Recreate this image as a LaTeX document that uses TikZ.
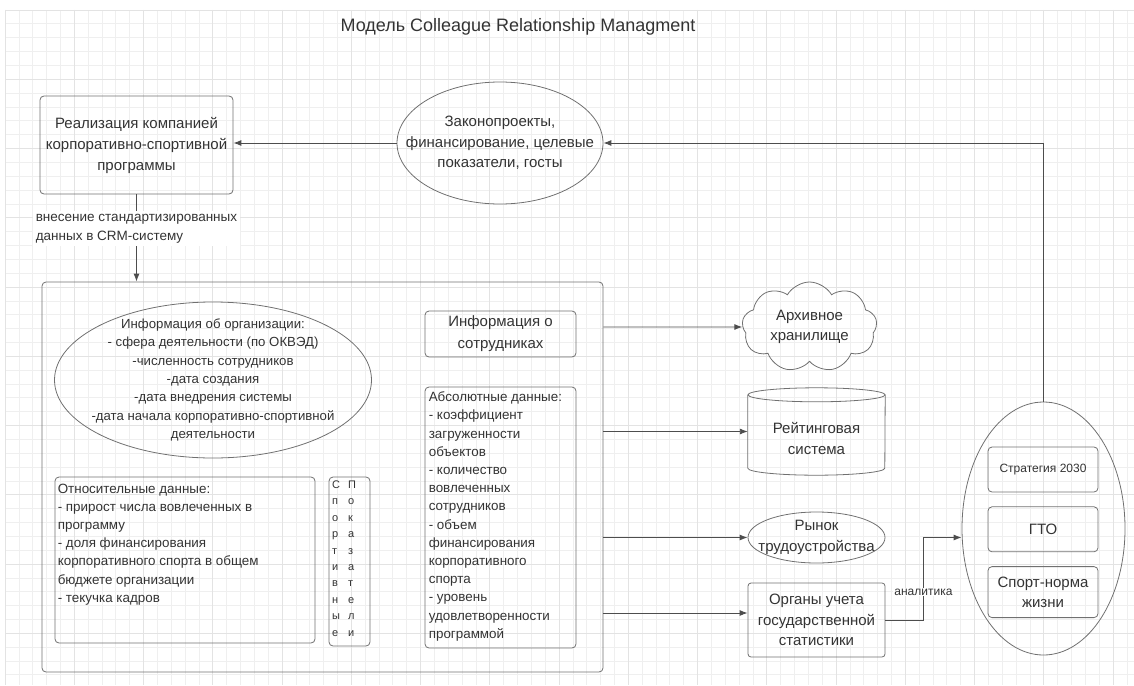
\documentclass[tikz,border=0pt]{standalone}
\usepackage{fontspec}
\setmainfont{Liberation Sans}
\usetikzlibrary{arrows.meta,shapes.geometric,shapes.symbols,positioning}
\usepackage{xcolor}
\definecolor{ink}{HTML}{333333}
\definecolor{connline}{HTML}{4D4D4D}
\definecolor{boxline}{HTML}{707070}
\definecolor{gridminor}{HTML}{EFEFEF}
\definecolor{gridmajor}{HTML}{E3E3E3}
\tikzset{%
  >={Latex[width=6pt,length=8pt]},
  % Specifications for style of nodes:
         base/.style = {draw=boxline, line width=0.8pt, text=ink,
                        align=center, inner sep=0pt},
     roundbox/.style = {base, rectangle, rounded corners=4pt},
         oval/.style = {base, ellipse},
       txtbig/.style = {text=ink, align=center, inner sep=0pt,
                        font=\fontsize{15}{20.5}\selectfont},
     txtsmall/.style = {text=ink, align=left, inner sep=0pt,
                        font=\fontsize{13.4}{18.2}\selectfont},
         conn/.style = {->, draw=connline, line width=0.9pt},
}

\begin{document}
\begin{tikzpicture}[x=1pt, y=-1pt]
  \useasboundingbox (0,0) rectangle (1134,685);
  % background grid
  \foreach \i in {0,...,81}
    \draw[gridminor, line width=0.7pt] ({5+13.85*\i},10) -- ({5+13.85*\i},685);
  \foreach \i in {0,...,48}
    \draw[gridminor, line width=0.7pt] (5,{10+13.85*\i}) -- (1134,{10+13.85*\i});
  \foreach \i in {0,5,...,80}
    \draw[gridmajor, line width=0.8pt] ({5+13.85*\i},10) -- ({5+13.85*\i},685);
  \foreach \i in {0,5,...,45}
    \draw[gridmajor, line width=0.8pt] (5,{10+13.85*\i}) -- (1134,{10+13.85*\i});

  % Specification of nodes (position, etc.)
  \node (title) at (518,27) [text=ink, font=\fontsize{18}{22}\selectfont]
    {Модель Colleague Relationship Managment};
  \node (realize) [roundbox, minimum width=193, minimum height=98,
    font=\fontsize{15}{21}\selectfont] at (136.5,145)
    {Реализация компанией\\корпоративно-спортивной\\программы};
  \node (laws) [oval, minimum width=206, minimum height=122] at (500,143) {};
  \node (lawstext) [txtbig] at (laws) {Законопроекты,\\финансирование, целевые\\показатели, госты};

  \node (crm) [roundbox, minimum width=561, minimum height=390] at (322.5,477) {};
  \node (orginfo) [oval, minimum width=317, minimum height=156] at (213,380) {};
  \node (orgtext) [txtsmall, align=center, font=\fontsize{13.2}{18.3}\selectfont] at (orginfo)
    {Информация об организации:\\- сфера деятельности (по ОКВЭД)\\-численность сотрудников\\-дата создания\\-дата внедрения системы\\-дата начала корпоративно-спортивной\\деятельности};
  \node (reldata) [roundbox, minimum width=260, minimum height=166] at (185,560) {};
  \node (reltext) [txtsmall, anchor=north west] at ([shift={(3,7)}]reldata.north west)
    {Относительные данные:\\- прирост числа вовлеченных в\\программу\\- доля финансирования\\корпоративного спорта в общем\\бюджете организации\\- текучка кадров};
  \node (vert) [roundbox, minimum width=41, minimum height=169] at (349.5,561.5) {};
  \node (verttext) [text=ink, inner sep=0pt, font=\fontsize{11}{16.4}\selectfont] at (344,559)
    {\begin{tabular}{@{}l@{\hspace{8pt}}l@{}}
     С & П\\ п & о\\ о & к\\ р & а\\ т & з\\ и & а\\ в & т\\ н & е\\ ы & л\\ е & и
     \end{tabular}};
  \node (empinfo) [roundbox, minimum width=151, minimum height=46,
    font=\fontsize{15}{22}\selectfont] at (500.5,334) {Информация о\\сотрудниках};
  \node (absdata) [roundbox, minimum width=151, minimum height=261] at (500.5,517.5) {};
  \node (abstext) [txtsmall, anchor=north west] at ([shift={(4,5)}]absdata.north west)
    {Абсолютные данные:\\- коэффициент\\загруженности\\объектов\\- количество\\вовлеченных\\сотрудников\\- объем\\финансирования\\корпоративного\\спорта\\- уровень\\удовлетворенности\\программой};

  \node (archive) [base, cloud, cloud puffs=9, cloud puff arc=120,
    minimum width=135, minimum height=90] at (809.5,327) {};
  \node (archtext) [txtbig] at (archive) {Архивное\\хранилище};
  \node (rating) [minimum width=137, minimum height=87, inner sep=0pt] at (816.5,431.5) {};
  \node (ratetext) [txtbig] at ([yshift=-7pt]rating.center) {Рейтинговая\\система};
  \node (market) [oval, minimum width=137, minimum height=51] at (816.5,537.5) {};
  \node (markettext) [txtbig] at (market) {Рынок\\трудоустройства};
  \node (stats) [roundbox, rounded corners=3pt, minimum width=137, minimum height=74,
    font=\fontsize{15}{20.5}\selectfont] at (816.5,620) {Органы учета\\государственной\\статистики};

  \node (gov) [oval, minimum width=163, minimum height=253] at (1043.5,528.5) {};
  \node (strat) [roundbox, minimum width=110, minimum height=45,
    font=\fontsize{12}{15}\selectfont] at (1043,469.5) {Стратегия 2030};
  \node (gto) [roundbox, minimum width=110, minimum height=45,
    font=\fontsize{15}{20}\selectfont, below=14pt of strat] {ГТО};
  \node (sportnorm) [roundbox, minimum width=110, minimum height=51,
    font=\fontsize{15}{20}\selectfont, below=14pt of gto] {Спорт-норма\\жизни};

  % cylinder outline of the rating system
  \draw[draw=boxline, line width=0.8pt] ([yshift=-7pt]rating.north west)
    -- ([yshift=7pt]rating.south west)
    arc[start angle=180, end angle=360, x radius=68.5pt, y radius=7pt]
    -- ([yshift=-7pt]rating.north east);
  \draw[draw=boxline, line width=0.8pt] ([yshift=-7pt]rating.north)
    ellipse[x radius=68.5pt, y radius=7pt];

  % Specification of lines between nodes specified above
  \coordinate (statsin) at ([yshift=7pt]stats.west);
  \draw[conn] (laws.west) -- (laws.west -| realize.east);
  \draw[conn] (gov.north) |- (laws.east);
  \draw[conn] (realize.south) -- node[pos=0.39, fill=white, inner sep=3pt, text=ink,
    align=left, font=\fontsize{13.5}{19}\selectfont]
    {внесение стандартизированных\\данных в CRM-систему} (realize.south |- crm.north);
  \draw[conn] (crm.east |- archive) -- (archive.west);
  \draw[conn] (crm.east |- rating) -- (rating.west);
  \draw[conn] (crm.east |- market) -- (market.west);
  \draw[conn] (crm.east |- statsin) -- (statsin);
  \draw[conn] (stats.east) -- ++(38,0) |- node[pos=0.17, fill=white, inner sep=1pt,
    text=ink, font=\fontsize{12}{14}\selectfont] {аналитика} (gov.west |- market.east);
\end{tikzpicture}
\end{document}
